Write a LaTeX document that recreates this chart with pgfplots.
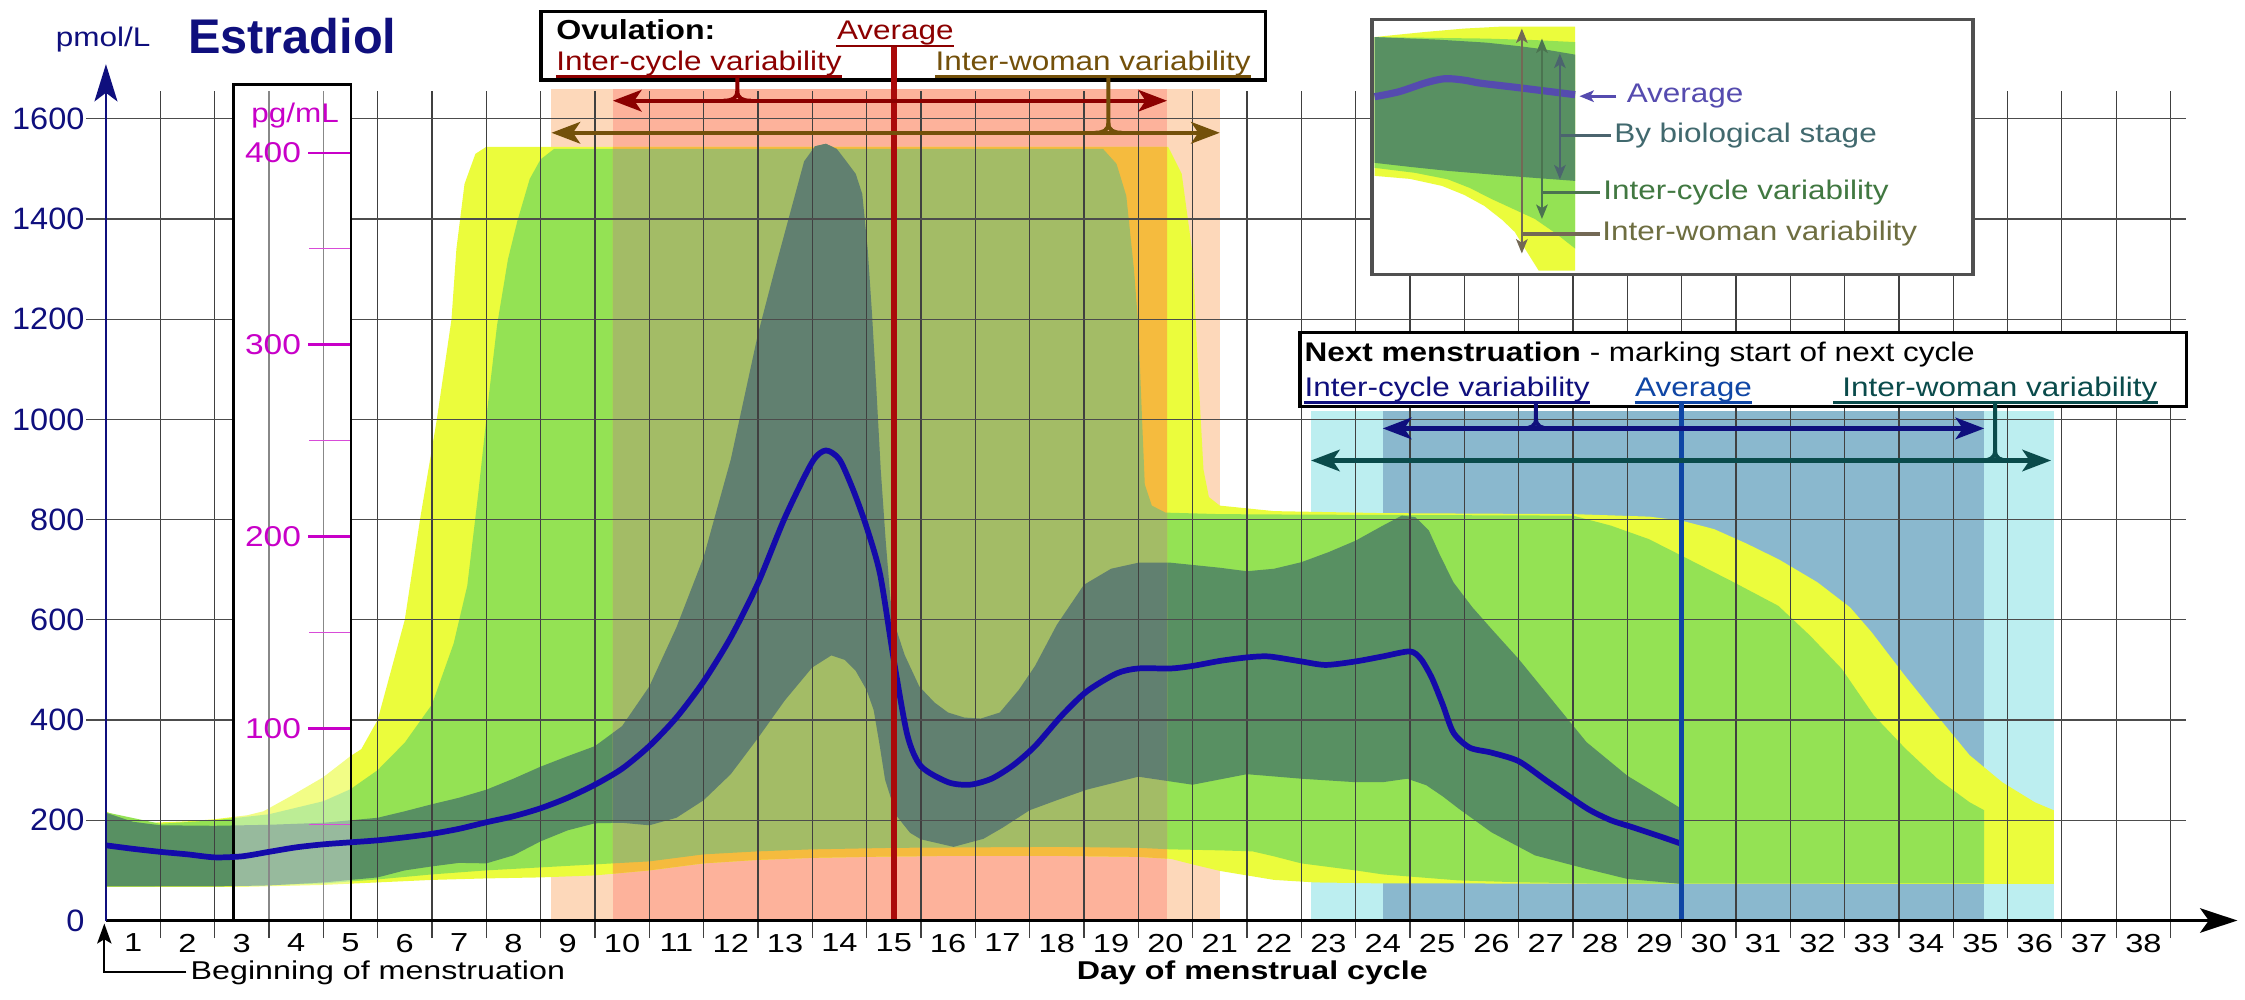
\documentclass[border=0pt]{standalone}
\usepackage{fontspec}
\setmainfont{Liberation Sans}
\newfontfamily\labf{Liberation Sans}[FakeStretch=1.17]
\newfontfamily\tickf{Liberation Sans}[FakeStretch=1.25]
\newfontfamily\ytickf{Liberation Sans}[FakeStretch=1.05]
\usepackage{pgfplots}
\pgfplotsset{compat=1.18}
\usepgfplotslibrary{fillbetween}
\usetikzlibrary{arrows.meta}
\pgfplotsset{layers/mine/.define layer set={axis background,axis grid,axis ticks,axis lines,axis tick labels,lrect,pre main,main,axis descriptions,axis foreground}{}}
\newcommand{\lab}{\labf\fontsize{9.4}{11}\selectfont}
\definecolor{yel}{RGB}{235,252,60}
\definecolor{lgr}{RGB}{148,226,84}
\definecolor{dgr}{RGB}{88,144,98}
\definecolor{sal}{RGB}{253,178,155}
\definecolor{oli}{RGB}{163,188,102}
\definecolor{ora}{RGB}{245,187,62}
\definecolor{dsal}{RGB}{97,128,112}
\definecolor{pea}{RGB}{253,216,186}
\definecolor{cya}{RGB}{188,238,240}
\definecolor{stl}{RGB}{138,184,206}
\definecolor{avgc}{RGB}{20,10,170}
\definecolor{navyc}{RGB}{15,15,125}
\definecolor{ovred}{RGB}{140,0,0}
\definecolor{ovline}{RGB}{170,10,10}
\definecolor{ovol}{RGB}{115,80,10}
\definecolor{mnavy}{RGB}{15,15,125}
\definecolor{mblue}{RGB}{15,70,165}
\definecolor{mteal}{RGB}{10,75,75}
\definecolor{mag}{RGB}{200,0,200}
\definecolor{insavg}{RGB}{85,75,175}
\definecolor{insbio}{RGB}{65,105,110}
\definecolor{inscyc}{RGB}{65,120,65}
\definecolor{inswom}{RGB}{110,110,65}
\definecolor{insa1}{RGB}{115,105,85}
\definecolor{insa2}{RGB}{75,115,80}
\definecolor{insa3}{RGB}{75,100,110}
\definecolor{legbox}{RGB}{80,80,80}
\tikzset{big/.tip={Stealth[length=10pt,width=7.5pt,inset=2.5pt]},
         sm/.tip={Stealth[length=5pt,width=4pt,inset=1.2pt]}}
\begin{document}
\begin{tikzpicture}
\begin{axis}[
  set layers=mine,
  x=18.975pt, y=0.175pt,
  xmin=0.5, xmax=39.73, ymin=0, ymax=1709,
  axis line style={draw=none},
  clip=false,
  xtick={1,...,38}, ytick={0,200,...,1600},
  major tick length=0pt,
  xtick pos=left, ytick pos=left,
  /pgf/number format/assume math mode=true,
  /pgf/number format/set thousands separator={},
  xticklabel style={font=\tickf\fontsize{9.1}{10}\selectfont, yshift=-1.2pt},
  yticklabel style={font=\ytickf\fontsize{10.8}{12}\selectfont, text=navyc, xshift=-4pt},
]
% background rectangles (below the bands)
\addplot[draw=none, fill=cya, on layer=lrect, forget plot] coordinates {(22.68,0) (22.68,1017) (36.35,1017) (36.35,0)} -- cycle;
\addplot[draw=none, fill=stl, on layer=lrect, forget plot] coordinates {(24.0,0) (24.0,1017) (35.07,1017) (35.07,0)} -- cycle;
\addplot[draw=none, fill=pea, on layer=lrect, forget plot] coordinates {(8.7,0) (8.7,1660) (21.0,1660) (21.0,0)} -- cycle;
\addplot[draw=none, fill=sal, on layer=lrect, forget plot] coordinates {(9.83,0) (9.83,1660) (20.03,1660) (20.03,0)} -- cycle;
\addplot[draw=none, fill=white, on layer=lrect, forget plot] coordinates {(23.8,1289) (23.8,1798) (34.86,1798) (34.86,1289)} -- cycle;
% curves
\addplot[draw=none, name path=yu, forget plot] coordinates {(0.5,218) (0.8,202) (1.3,195) (2,198) (2.5,202) (3.1,210) (3.4,218) (3.9,248) (4.5,286) (5.0,328) (5.2,342) (5.5,400) (5.75,500) (6.0,600) (6.28,800) (6.59,1000) (6.86,1200) (6.95,1340) (7.1,1470) (7.3,1530) (7.5,1544) (20.05,1544) (20.3,1490) (20.5,1330) (20.6,1100) (20.7,900) (20.8,845) (21,828) (22,817) (24,813) (27.5,811) (28.9,806) (29.5,798) (30.1,781) (30.7,752) (31.3,720) (32,675) (32.6,625) (33,575) (33.6,490) (34.2,409) (34.8,330) (35.4,276) (36,236) (36.35,220)};
\addplot[draw=none, name path=yl, forget plot] coordinates {(0.5,67) (3,67) (4.5,71) (5.5,76) (6.5,81) (7.5,84) (8.5,86) (9.5,90) (10.5,100) (11.5,114) (12.5,121) (13.5,125) (14.5,127) (16,129) (18,129) (19.5,127) (20.1,123) (20.5,112) (21,99) (21.5,90) (22,81) (22.75,76) (24,74) (36.35,73)};
\addplot[draw=none, name path=gu, forget plot] coordinates {(0.5,216) (1.5,193) (2.5,200) (3.5,212) (4.5,238) (5,262) (5.5,300) (6,355) (6.5,431) (6.9,553) (7.15,668) (7.35,850) (7.55,1050) (7.7,1189) (7.9,1320) (8.07,1395) (8.3,1480) (8.5,1519) (8.75,1540) (18.85,1540) (19.1,1510) (19.28,1446) (19.42,1300) (19.5,1189) (19.57,1000) (19.62,870) (19.75,828) (20,814) (21,811) (22.5,810) (27.5,808) (28.2,788) (28.9,761) (29.5,728) (30.46,675) (31.28,628) (31.86,569) (32.45,502) (33.04,409) (33.62,343) (34.21,283) (34.8,236) (35.07,220)};
\addplot[draw=none, name path=gl, forget plot] coordinates {(0.5,68) (3,69) (4.5,74) (5.5,82) (6.5,92) (7.5,100) (8.5,106) (9.5,112) (10.5,118) (11.5,132) (12.5,138) (13.5,142) (15,145) (18,147) (19.5,145) (20.1,142) (21,140) (21.6,138) (22,128) (22.5,114) (23.5,100) (24,92) (25.4,80) (26.6,76) (28,74) (35.07,74)};
\addplot[draw=none, name path=du, forget plot] coordinates {(0.5,215) (1,197) (1.5,190) (2.5,189) (3.5,191) (4.5,195) (5.5,205) (6,218) (6.5,232) (7,245) (7.5,261) (8,283) (8.5,307) (9,328) (9.5,348) (10,388) (10.5,467) (11,585) (11.5,725) (12,920) (12.5,1170) (12.8,1295) (13.05,1395) (13.35,1515) (13.55,1545) (13.75,1550) (13.95,1540) (14.1,1519) (14.3,1490) (14.42,1450) (14.52,1340) (14.6,1210) (14.68,1060) (14.76,900) (14.85,760) (14.94,640) (15.05,580) (15.2,530) (15.47,467) (15.75,435) (16,415) (16.3,405) (16.6,403) (16.95,415) (17.3,460) (17.6,508) (18,590) (18.5,670) (19,702) (19.5,714) (20.1,714) (21,704) (21.5,697) (22,702) (22.5,715) (23,735) (23.5,758) (24,788) (24.35,808) (24.6,805) (24.85,778) (25.05,730) (25.3,675) (25.65,625) (26,582) (26.5,522) (27.05,449) (27.75,356) (28.5,289) (29.5,223)};
\addplot[draw=none, name path=dl, forget plot] coordinates {(0.5,68) (2.5,68) (3.5,70) (4.5,76) (5.5,86) (6,100) (6.5,108) (7,115) (7.5,114) (8,130) (8.5,158) (9,180) (9.5,194) (10,195) (10.5,190) (11,205) (11.5,240) (12,292) (12.5,364) (13,440) (13.5,505) (13.85,529) (14.1,520) (14.3,498) (14.5,460) (14.63,420) (14.74,350) (14.84,281) (15.05,209) (15.3,175) (15.5,162) (16.1,147) (16.65,163) (17,185) (17.5,220) (18,240) (18.55,261) (19.5,287) (20.5,271) (21.5,292) (22.5,283) (23.5,276) (24,276) (24.45,283) (24.8,270) (25.1,248) (25.4,223) (26,176) (26.8,130) (27.75,103) (28.5,83) (29.5,73)};
% bands
\addplot[fill=yel, draw=none, forget plot] fill between[of=yu and yl];
\addplot[fill=lgr, draw=none, forget plot] fill between[of=gu and gl];
\addplot[fill=dgr, draw=none, forget plot] fill between[of=du and dl];
\addplot[fill=ora, draw=none, forget plot] fill between[of=yu and yl, soft clip={domain=9.83:20.03}];
\addplot[fill=oli, draw=none, forget plot] fill between[of=gu and gl, soft clip={domain=9.83:20.03}];
\addplot[fill=dsal, draw=none, forget plot] fill between[of=du and dl, soft clip={domain=9.83:20.03}];
% legend inset bands
\addplot[draw=none, name path=iyu, forget plot] coordinates {(23.85,1763) (24.3,1768) (24.76,1773) (25.5,1780) (26.2,1784) (27.54,1784)};
\addplot[draw=none, name path=iyl, forget plot] coordinates {(23.85,1486) (24.5,1480) (25.09,1466) (25.5,1448) (25.87,1426) (26.2,1398) (26.43,1374) (26.65,1335) (26.87,1297) (27.54,1297)};
\addplot[draw=none, name path=igu, forget plot] coordinates {(23.85,1763) (25.9,1760) (26.8,1757) (27.54,1753)};
\addplot[draw=none, name path=igl, forget plot] coordinates {(23.85,1502) (24.6,1492) (25.2,1479) (25.6,1462) (26.0,1440) (26.4,1420) (26.8,1400) (27.2,1370) (27.54,1341)};
\addplot[draw=none, name path=idu, forget plot] coordinates {(23.85,1763) (25.0,1758) (25.9,1752) (26.5,1745) (27.0,1738) (27.54,1728)};
\addplot[draw=none, name path=idl, forget plot] coordinates {(23.85,1512) (24.5,1504) (25.2,1496) (26.3,1486) (27.54,1476)};
\addplot[fill=yel, draw=none, forget plot] fill between[of=iyu and iyl];
\addplot[fill=lgr, draw=none, forget plot] fill between[of=igu and igl];
\addplot[fill=dgr, draw=none, forget plot] fill between[of=idu and idl];
% grid (skipping the legend box)
\pgfplotsinvokeforeach{1.5,2.5,...,23.5}{\draw[black!75, line width=0.4pt] (#1,-35) -- (#1,1655);}
\pgfplotsinvokeforeach{24.5,25.5,...,34.5}{\draw[black!75, line width=0.4pt] (#1,-35) -- (#1,1289);}
\pgfplotsinvokeforeach{35.5,36.5,37.5,38.5}{\draw[black!75, line width=0.4pt] (#1,-35) -- (#1,1655);}
\pgfplotsinvokeforeach{200,400,600,800,1000,1200}{\draw[black!70, line width=0.45pt] (0.13,#1) -- (2.84,#1); \draw[black!70, line width=0.45pt] (5.01,#1) -- (38.79,#1);}
\pgfplotsinvokeforeach{1400,1600}{\draw[black!70, line width=0.45pt] (0.13,#1) -- (2.84,#1); \draw[black!70, line width=0.45pt] (5.01,#1) -- (23.8,#1); \draw[black!70, line width=0.45pt] (34.86,#1) -- (38.79,#1);}
% pg/mL box
\draw[black, line width=1pt, fill=white, fill opacity=0.38] (2.84,0) rectangle (5.01,1668);
\pgfplotsinvokeforeach{0,383,766,1149,1532}{\draw[mag, line width=0.9pt] (4.22,#1) -- (5.0,#1);}
\pgfplotsinvokeforeach{191.5,574.5,957.5,1340.5}{\draw[mag!70, line width=0.4pt] (4.24,#1) -- (5.0,#1);}
\node[anchor=east, inner sep=0pt, text=mag, font=\labf\fontsize{10}{11}\selectfont] at (4.1,383) {100};
\node[anchor=east, inner sep=0pt, text=mag, font=\labf\fontsize{10}{11}\selectfont] at (4.1,766) {200};
\node[anchor=east, inner sep=0pt, text=mag, font=\labf\fontsize{10}{11}\selectfont] at (4.1,1149) {300};
\node[anchor=east, inner sep=0pt, text=mag, font=\labf\fontsize{10}{11}\selectfont] at (4.1,1532) {400};
\node[anchor=base, inner sep=0pt, text=mag, font=\lab] at (3.98,1592) {pg/mL};
% average curve
\addplot[avgc, line width=2pt, smooth, tension=0.45, forget plot] coordinates {(0.5,150) (1,143) (1.5,137) (2,132) (2.5,126) (3,128) (3.5,137) (4,146) (4.5,152) (5,156) (5.5,160) (6,166) (6.5,173) (7,183) (7.5,196) (8,208) (8.5,224) (9,245) (9.5,271) (10,303) (10.5,348) (11,405) (11.5,477) (12,565) (12.5,673) (13,805) (13.5,915) (13.75,938) (14,920) (14.25,860) (14.5,785) (14.75,690) (15,520) (15.25,370) (15.5,308) (16,276) (16.4,271) (16.8,283) (17.2,310) (17.6,348) (18.1,410) (18.55,457) (19.1,493) (19.5,503) (20.1,503) (20.5,508) (21,518) (21.5,525) (21.9,527) (22.5,517) (22.95,510) (23.5,517) (24,527) (24.5,537) (24.7,522) (24.9,485) (25.1,432) (25.3,375) (25.6,345) (26,335) (26.5,318) (27,280) (27.4,250) (27.8,221) (28.2,200) (28.6,186) (29.1,168) (29.5,153)};
% ovulation annotation
\draw[black, line width=1.2pt, fill=white] (8.51,1677) rectangle (21.84,1814);
\addplot[ovline, line width=2pt, forget plot] coordinates {(15,0) (15,1745)};
\node[anchor=base west, inner sep=0pt, font=\labf\bfseries\fontsize{9.6}{11}\selectfont] at (8.78,1758) {Ovulation:};
\node[anchor=base, inner sep=0pt, text=ovred, font=\lab, name=ovavg] at (15.03,1758) {Average};
\draw[ovred, line width=0.9pt] ([yshift=-2.2pt]ovavg.base west) -- ([yshift=-2.2pt]ovavg.base east);
\node[anchor=base west, inner sep=0pt, text=ovred, font=\lab, name=ovic] at (8.78,1697) {Inter-cycle variability};
\draw[ovred, line width=0.9pt] ([yshift=-2.2pt]ovic.base west) -- ([yshift=-2.2pt]ovic.base east);
\node[anchor=base west, inner sep=0pt, text=ovol, font=\lab, name=ovw] at (15.76,1697) {Inter-woman variability};
\draw[ovol, line width=0.9pt] ([yshift=-2.2pt]ovw.base west) -- ([yshift=-2.2pt]ovw.base east);
\draw[ovred, line width=1.5pt, big-big] (9.83,1636) -- (20.03,1636);
\draw[ovred, line width=1.4pt] (12.12,1684) -- (12.12,1656) .. controls (12.12,1640) and (12.02,1636) .. (11.87,1636);
\draw[ovred, line width=1.4pt] (12.12,1656) .. controls (12.12,1640) and (12.22,1636) .. (12.37,1636);
\draw[ovol, line width=1.5pt, big-big] (8.7,1572) -- (21.0,1572);
\draw[ovol, line width=1.4pt] (18.95,1684) -- (18.95,1592) .. controls (18.95,1576) and (18.85,1572) .. (18.7,1572);
\draw[ovol, line width=1.4pt] (18.95,1592) .. controls (18.95,1576) and (19.05,1572) .. (19.2,1572);
% next menstruation annotation
\draw[black, line width=1.2pt, fill=white] (22.48,1026) rectangle (38.79,1174);
\addplot[mblue, line width=2pt, forget plot] coordinates {(29.5,0) (29.5,1034)};
\node[anchor=base west, inner sep=0pt, font=\lab] at (22.55,1115) {\bfseries Next menstruation\mdseries{} - marking start of next cycle};
\node[anchor=base west, inner sep=0pt, text=mnavy, font=\lab, name=mic] at (22.55,1046) {Inter-cycle variability};
\draw[mnavy, line width=0.9pt] ([yshift=-2.2pt]mic.base west) -- ([yshift=-2.2pt]mic.base east);
\node[anchor=base, inner sep=0pt, text=mblue, font=\lab, name=mav] at (29.72,1046) {Average};
\draw[mblue, line width=0.9pt] ([yshift=-2.2pt]mav.base west) -- ([yshift=-2.2pt]mav.base east);
\node[anchor=base west, inner sep=0pt, text=mteal, font=\lab, name=mw] at (32.45,1046) {Inter-woman variability};
\draw[mteal, line width=0.9pt] ([yshift=-2.2pt,xshift=-3pt]mw.base west) -- ([yshift=-2.2pt]mw.base east);
\draw[mnavy, line width=1.5pt, big-big] (24.0,982) -- (35.07,982);
\draw[mnavy, line width=1.4pt] (26.82,1033) -- (26.82,1002) .. controls (26.82,986) and (26.72,982) .. (26.57,982);
\draw[mnavy, line width=1.4pt] (26.82,1002) .. controls (26.82,986) and (26.92,982) .. (27.07,982);
\draw[mteal, line width=1.5pt, big-big] (22.68,918) -- (36.3,918);
\draw[mteal, line width=1.4pt] (35.27,1033) -- (35.27,938) .. controls (35.27,922) and (35.17,918) .. (35.02,918);
\draw[mteal, line width=1.4pt] (35.27,938) .. controls (35.27,922) and (35.37,918) .. (35.52,918);
% legend inset lines and labels
\draw[legbox, line width=1.3pt] (23.8,1289) rectangle (34.86,1798);
\addplot[insavg, line width=2.5pt, smooth, tension=0.5, forget plot] coordinates {(23.85,1644) (24.3,1654) (24.8,1672) (25.15,1680) (25.5,1677) (25.8,1671) (26.5,1662) (27.54,1648)};
\draw[insa1, line width=0.9pt, sm-sm] (26.56,1780) -- (26.56,1331);
\draw[insa2, line width=0.9pt, sm-sm] (26.93,1760) -- (26.93,1400);
\draw[insa3, line width=0.9pt, sm-sm] (27.26,1730) -- (27.26,1479);
\draw[insa3, line width=1.1pt] (27.26,1566) -- (28.2,1566);
\draw[insa2, line width=1.1pt] (26.93,1453) -- (28.0,1453);
\draw[insa1, line width=1.1pt] (26.56,1370) -- (28.0,1370);
\draw[insavg, line width=1.1pt, -sm] (28.3,1645) -- (27.62,1645);
\node[anchor=west, inner sep=0pt, text=insavg, font=\lab] at (28.48,1645) {Average};
\node[anchor=west, inner sep=0pt, text=insbio, font=\lab] at (28.25,1566) {By biological stage};
\node[anchor=west, inner sep=0pt, text=inscyc, font=\lab] at (28.05,1453) {Inter-cycle variability};
\node[anchor=west, inner sep=0pt, text=inswom, font=\lab] at (28.03,1370) {Inter-woman variability};
% titles
\node[anchor=base, inner sep=0pt, text=navyc, font=\bfseries\fontsize{17}{20}\selectfont] at (3.93,1731) {Estradiol};
\node[anchor=base, inner sep=0pt, text=navyc, font=\lab] at (0.45,1744) {pmol/L};
% axes
\draw[black, line width=1.3pt, -{Stealth[length=13pt,width=8.5pt,inset=3pt]}] (0.5,0) -- (39.73,0);
\draw[navyc, line width=1pt, -{Stealth[length=13pt,width=8pt,inset=3pt]}] (0.5,0) -- (0.5,1709);
\draw[black, line width=0.7pt, -{Stealth[length=7pt,width=5pt,inset=1.5pt]}] (1.98,-103) -- (0.47,-103) -- (0.47,-6);
\node[anchor=base west, inner sep=0pt, font=\tickf\fontsize{9}{10}\selectfont] at (2.05,-118) {Beginning of menstruation};
\node[anchor=base, inner sep=0pt, font=\tickf\bfseries\fontsize{9}{10}\selectfont] at (21.6,-118) {Day of menstrual cycle};
\coordinate (BL) at (-1.45,-157);
\coordinate (TR) at (39.87,1837);
\end{axis}
\pgfresetboundingbox
\path[use as bounding box] (BL) rectangle (TR);
\end{tikzpicture}
\end{document}
